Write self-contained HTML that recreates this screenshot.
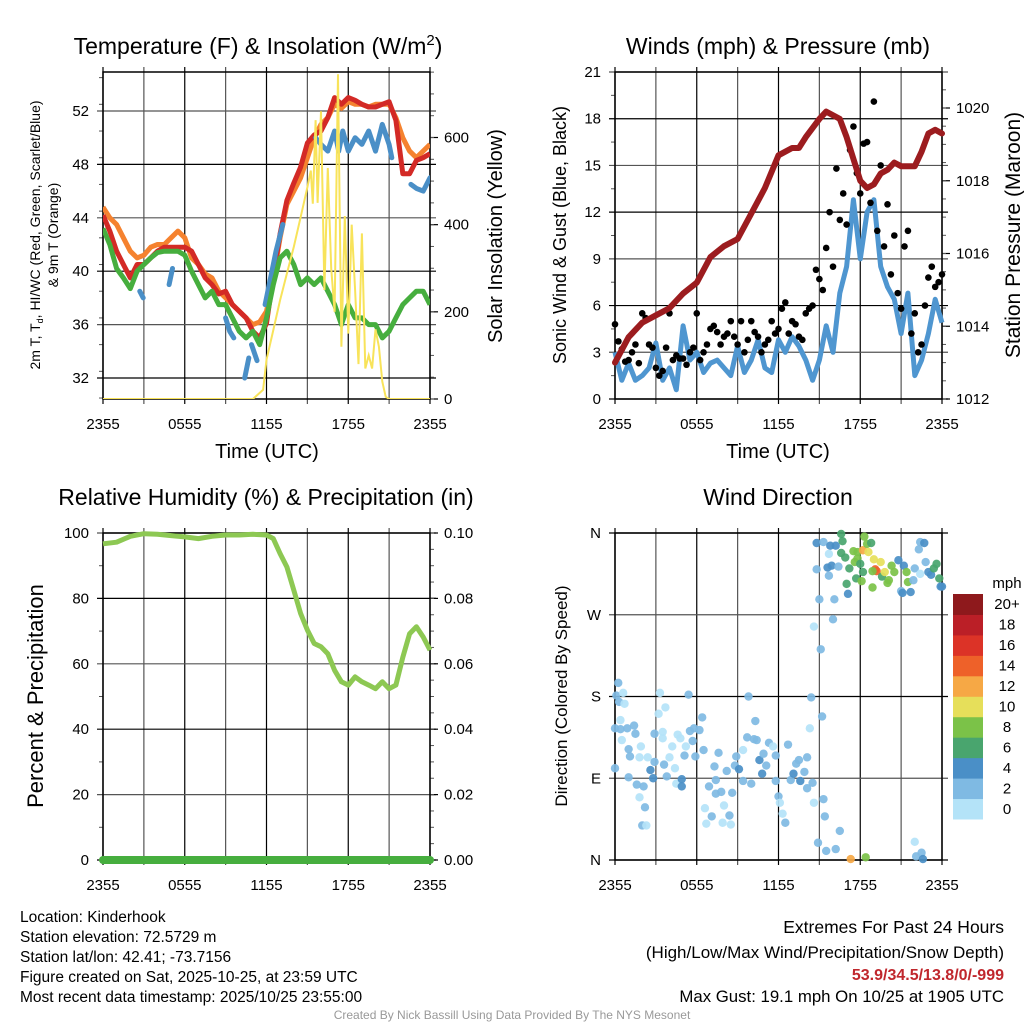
<!DOCTYPE html>
<html><head><meta charset="utf-8"><style>
html,body{margin:0;padding:0;background:#fff;}
svg text{font-family:"Liberation Sans",sans-serif;fill:#000;}
</style></head><body>
<svg id="chart" xmlns="http://www.w3.org/2000/svg" width="1024" height="1024" viewBox="0 0 1024 1024">
<rect x="0" y="0" width="1024" height="1024" fill="#fff"/>
<g id="layer"></g>
<g font-size="15.5">
<text x="20" y="922">Location: Kinderhook</text>
<text x="20" y="942">Station elevation: 72.5729 m</text>
<text x="20" y="962">Station lat/lon: 42.41; -73.7156</text>
<text x="20" y="982">Figure created on Sat, 2025-10-25, at 23:59 UTC</text>
<text x="20" y="1002">Most recent data timestamp: 2025/10/25 23:55:00</text>
<text x="1004" y="933" text-anchor="end" font-size="17.5">Extremes For Past 24 Hours</text>
<text x="1004" y="958" text-anchor="end" font-size="17">(High/Low/Max Wind/Precipitation/Snow Depth)</text>
<text x="1004" y="980" text-anchor="end" font-size="16" font-weight="bold" style="fill:#c0272d">53.9/34.5/13.8/0/-999</text>
<text x="1004" y="1002" text-anchor="end" font-size="16.8">Max Gust: 19.1 mph On 10/25 at 1905 UTC</text>
<text x="512" y="1019" text-anchor="middle" font-size="12" style="fill:#999">Created By Nick Bassill Using Data Provided By The NYS Mesonet</text>
</g>
</svg>
<script>
// ---------- data (hours since 2355 UTC) ----------
const halfHours = []; for (let i = 0; i <= 48; i++) halfHours.push(i * 0.5);
const timeTickLabels = ["2355","0555","1155","1755","2355"];
const tempRed = [44.2,43,41.5,40.5,39.5,40.5,40.5,41,41.5,41.8,41.8,41.8,41.8,41.5,40.5,39.5,39,38.3,38.5,37.5,37,36.5,35.5,35,36.1,39.6,42.8,45.3,46.6,47.8,49.6,50.2,50.5,51.5,53,52.5,53,52.8,52.5,52.3,52.3,52.5,52.7,51.3,47.3,47.3,48.3,48.5,48.8];
const temp9mOrange = [44.8,44,43.5,42.5,41.5,41,41.2,41.8,42,42,42.5,43,42.5,41,40.5,39.8,39.5,38.5,38,37.5,37,36.5,36,36.2,37,39.5,42.5,45,46,47,48.5,50,51,51.5,52.5,52.2,52.7,52.5,52.5,52.3,52.5,52.5,52.5,51.5,50,49,48.5,49,49.5];
const dewGreen = [43.2,42,40.2,39.5,38.7,40,40.5,41,41.4,41.5,41.5,41.5,41.2,40,39,38,38.5,37.5,37.5,36.5,35.5,35,35.5,34.5,36.5,39,41,41.5,40.5,39,39.5,39,39.5,38.5,37.5,36,37.5,36.5,36.5,36,36,35,35.5,36.5,37.5,38,38.5,38.5,37.5];
const hiTimes = [2.7,2.95,null,4.85,5.1,null,9.0,9.3,9.6,null,10.4,10.7,null,10.9,11.3,null,11.9,12.3,12.7,13.2,null,15.6,16.0,16.5,17.0,17.3,17.6,18.0,18.5,19.0,19.5,20.0,20.5,21.0,21.2,null,22.6,23.0,23.5,24.0];
const hiVals = [38.5,38.0,null,39.0,40.2,null,36.5,35.5,35.0,null,32.0,33.5,null,34.5,33.3,null,37.5,39.5,41.5,43.5,null,50.0,49.5,49.0,50.5,49.0,50.5,49.0,50.0,49.5,50.5,49.0,51.0,49.5,48.5,null,46.5,46.2,46.0,47.0];
const solarTimes = [0,11,11.5,11.75,12,12.5,13,13.5,14,14.5,15,15.25,15.4,15.6,15.75,16,16.25,16.5,16.75,17,17.25,17.5,17.75,18,18.25,18.5,18.75,19,19.25,19.5,19.75,20,20.25,20.5,20.75,21,24];
const solarVals = [0,0,14,21,90,158,227,288,349,417,486,524,448,640,450,660,250,530,300,200,745,120,420,150,400,250,80,380,70,100,70,160,120,40,5,0,0];
const tempTicks = [32,36,40,44,48,52];
const solarTicks = [0,200,400,600];

const windBlue = [3.0,1.2,2.3,1.2,1.5,2.0,3.6,1.2,2.0,0.6,4.7,2.5,3.0,1.7,2.3,2.5,2.0,1.5,3.4,1.7,2.5,3.8,2.0,1.7,3.8,3.0,4.0,3.4,2.5,1.2,2.5,4.7,3.0,6.8,8.5,12.8,9.0,12.0,12.8,8.5,7.2,6.4,4.2,6.8,1.5,2.5,4.2,6.4,4.9];
const gustA = [4.8,3.2,2.5,3.5,5.5,3.5,2.0,1.8,5.5,2.8,2.6,3.0,5.5,3.0,4.5,4.3,4.0,5.0,3.5,3.0,5.0,4.0,3.5,5.0,4.5,6.2,5.0,4.0,5.5,6.0,7.7,9.7,8.5,11.5,11.2,17.5,13.2,16.5,19.1,15.0,12.5,10.5,5.8,10.8,5.5,3.5,7.8,7.2,8.0];
const gustB = [3.7,2.4,3.0,2.3,5.2,3.3,1.5,3.3,2.5,2.6,2.2,3.3,2.5,3.5,4.7,3.5,4.2,4.0,5.0,3.8,4.3,3.0,3.8,4.2,5.8,4.2,4.8,3.8,5.8,8.3,7.0,12.0,14.8,13.2,16.0,14.5,16.4,12.6,10.8,9.8,8.0,6.8,9.8,4.2,3.0,6.0,8.5,7.5];
const pressTimes = [0,1,2,3,4,5,6,7,8,9,10,11,12,13,13.5,14,15,15.5,16,16.5,17,17.5,18,18.5,19,19.5,20,20.5,21,22,22.5,23,23.5,24];
const pressVals = [1013.0,1013.7,1014.1,1014.3,1014.5,1014.9,1015.2,1015.9,1016.2,1016.4,1017.1,1017.8,1018.7,1018.9,1018.9,1019.2,1019.7,1019.9,1019.8,1019.7,1019.2,1018.6,1018.0,1017.8,1017.9,1018.2,1018.3,1018.5,1018.4,1018.4,1018.8,1019.3,1019.4,1019.3];
const windTicks = [0,3,6,9,12,15,18,21];
const pressTicks = [1012,1014,1016,1018,1020];

const rhTimes = [0,1,2,3,4,5,6,7,8,9,10,11,12,12.5,13,13.5,14,14.5,15,15.5,16,16.5,17,17.5,18,18.5,19,19.5,20,20.5,21,21.5,22,22.5,23,23.5,24];
const rhVals = [96.7,97.2,99,99.8,99.6,99.2,98.8,98.3,99,99.4,99.4,99.6,99.4,98.3,93.7,89.6,82.5,75.4,70.3,66.2,65.2,63.1,58,54.5,53.5,56,54.5,53.5,52.4,54.5,52.4,53.5,62,69.2,71.3,68.2,64.2];
const precipTimes = [0,24];
const precipVals = [0,0];
const rhTicks = [0,20,40,60,80,100];
const precipTickLabels = ["0.00","0.02","0.04","0.06","0.08","0.10"];

const dirHours = [0.24,0.1,0.3,0.6,0.7,0.4,0,0.4,0.9,1.4,1.5,0.5,1,1.1,0,1,1.6,2.1,1.8,2.2,2,2.3,1.8,1.9,2.4,2.9,2.6,2.8,2.9,3.2,3.3,3.7,3.5,3.5,3.8,3.6,4.0,4.2,4.4,4.5,4.6,4.8,4.9,4.9,5.1,5.2,5.4,5.7,5.5,5.8,6.2,6.4,6.5,5.9,6.6,6.7,6.9,7.1,7.3,7.4,7.6,7.4,7.8,7.9,8,8.2,8.4,8.5,8.6,8.8,8.9,9.1,9.4,9.4,9.7,9.8,10,10.2,10.3,10.4,10.6,10.8,10.9,11.1,11.3,11.6,11.8,11.8,12,12.1,12.3,12.5,12.7,12.9,13.1,13.3,13.5,13.6,13.9,14.1,14.1,14.4,14.3,14.5,14.6,15.2,15.1,15.3,15.4,14.9,15.5,16.2,16.5,17.3,18.4,22,22.1,22.5,22.6,14.6,16,15,16.1,14.8,14.8,15.3,15.7,15.8,16.2,15.6,15.9,15.7,16.4,16.6,16.7,16.6,16.9,17,17.1,17.2,17.5,17.6,17.8,17.7,17.8,18,18.1,18.2,18.3,18.2,18.5,18.6,18.8,18.9,19,19.1,19.2,18.9,19.5,19.6,19.8,20,20.1,20.3,20.5,20.8,21,21.1,21.2,21.4,21.5,21.7,21.9,22,22.3,22.4,22.7,22.4,22.8,23,23.2,23.4,23.6,23.8,23.9,24];
const dirDegrees = [195,181,174,184,172,154,145,144,145,148,139,132,122,114,101,91,83,81,69,58,38,38,113,125,113,108,99,90,139,161,184,168,141,134,92,105,113,125,101,84,138,134,89,81,115,125,182,131,142,145,143,157,121,114,57,40,81,48,103,88,118,73,75,41,60,98,49,39,74,104,114,100,121,87,135,180,84,133,153,132,110,95,117,104,129,125,115,87,70,63,51,41,127,88,95,106,110,87,97,113,79,179,145,85,63,158,232,67,48,19,10,12,32,1,3,20,4,8,1,257,265,287,287,320,349,350,337,346,346,322,324,313,323,359,351,338,333,304,293,321,340,328,332,310,339,326,307,317,356,341,348,339,349,300,331,320,318,318,328,312,317,305,308,324,317,330,296,294,324,317,306,295,308,321,342,350,349,315,328,317,314,321,326,310,301,301];
const dirSpeeds = [3,3,2,1,1,1,3,3,3,3,3,1,3,3,3,3,3,3,1,3,3,1,1,1,1,3,4,4,3,1,1,1,1,1,3,3,1,1,1,1,1,1,4,4,3,1,3,3,3,3,3,3,3,3,1,1,3,3,3,3,3,3,3,1,1,3,3,1,3,3,3,4,1,3,3,3,3,3,3,3,4,4,3,3,3,1,3,3,3,1,1,3,3,3,4,3,3,4,3,3,3,3,1,3,1,3,3,3,3,3,3,3,3,12,8,1,3,3,4,1,3,3,3,3,4,3,1,4,4,4,4,3,3,6,7,7,6,6,4,6,9,9,9,6,8,7,8,7,8,12,9,10,7,8,10,14,14,8,10,6,10,8,8,8,8,4,3,4,4,8,8,4,3,3,3,3,4,1,3,4,4,6,6,6,4,4];
const dirTickLabels = ["N","E","S","W","N"];
const speedBinLabels = ["0","2","4","6","8","10","12","14","16","18","20+"];
const speedColors = ["#b4e3f8","#7fbae3","#4a8fc7","#49a56e","#7bc248","#e6df5a","#f6a845","#ee6129","#dc3327","#bb1f27","#8e191c"];

// ---------- drawing ----------
const NS = "http://www.w3.org/2000/svg";
const layer = document.getElementById("layer");
function mk(tag, attrs, parent) {
  const e = document.createElementNS(NS, tag);
  for (const k in attrs) e.setAttribute(k, attrs[k]);
  (parent || layer).appendChild(e);
  return e;
}
function txt(str, x, y, size, anchor, parent, rot) {
  const t = mk("text", {x: x, y: y, "font-size": size, "text-anchor": anchor || "middle"}, parent);
  if (rot) t.setAttribute("transform", "rotate(" + rot + " " + x + " " + y + ")");
  t.textContent = str;
  return t;
}
function linear(d0, d1, r0, r1) { return v => r0 + (v - d0) / (d1 - d0) * (r1 - r0); }
function pathFrom(xs, ys, sx, sy) {
  let d = "", pen = false;
  for (let i = 0; i < xs.length; i++) {
    if (xs[i] === null || ys[i] === null) { pen = false; continue; }
    d += (pen ? "L" : "M") + sx(xs[i]).toFixed(1) + "," + sy(ys[i]).toFixed(1);
    pen = true;
  }
  return d;
}

function panelFrame(g, x0, x1, y0, y1, sy, ticks, labels, rightTicks, rightLabels, syR, minorL, minorR) {
  const sx = linear(0, 24, x0, x1);
  for (let h = 0; h <= 24; h += 3) {
    const gl = mk("line", {x1: sx(h), x2: sx(h), y1: y0 - 5, y2: y1 + 5, stroke: (h % 6 === 0) ? "#000" : "#555", "stroke-width": 1.2}, g);
    
    
  }
  ticks.forEach((v, i) => {
    const y = sy(v);
    const gl = mk("line", {x1: x0 - 6, x2: x1 + 6, y1: y, y2: y, stroke: (i % 2) ? "#555" : "#000", "stroke-width": 1.2}, g);
    
    
    const t = txt(labels[i], x0 - 14, y + 5, 15, "end", g);
    
    
  });
  if (minorL) minorL.forEach(v => { mk("line", {x1: x0 - 4, x2: x0, y1: sy(v), y2: sy(v), stroke: "#555", "stroke-width": 1}, g); });
  if (rightTicks) {
    rightTicks.forEach((v, i) => {
      const y = syR(v);
      mk("line", {x1: x1, x2: x1 + 8, y1: y, y2: y, stroke: "#000", "stroke-width": 1.2}, g);
      const t = txt(rightLabels[i], x1 + 14, y + 5, 15, "start", g);
      
      
    });
  }
  if (minorR) minorR.forEach(v => { mk("line", {x1: x1, x2: x1 + 4, y1: syR(v), y2: syR(v), stroke: "#555", "stroke-width": 1}, g); });
  const b = mk("rect", {x: x0, y: y0, width: x1 - x0, height: y1 - y0, fill: "none", stroke: "#000", "stroke-width": 1.5}, g);
  
  
  timeTickLabels.forEach((l, i) => {
    const t = txt(l, sx(i * 6), y1 + 30, 15, "middle", g);
    
    
  });
  return sx;
}
function range(a, b, s) { const r = []; for (let v = a; v <= b + 1e-9; v += s) r.push(v); return r; }

// ===== Panel 1: Temperature =====
(function () {
  const g = mk("g", {});
  
  
  const x0 = 103, x1 = 430, y0 = 72, y1 = 399;
  const sy = linear(32, 52, 378, 111);
  const syR = linear(0, 600, 399, 137.5);
  const sx = panelFrame(g, x0, x1, y0, y1, sy, tempTicks, tempTicks.map(String), solarTicks, solarTicks.map(String), syR, range(30.5, 54.5, 2).filter(v => sy(v) > y0 && sy(v) < y1), range(0, 750, 50));
  const clip = mk("clipPath", {id: "c1"}, g); mk("rect", {x: x0, y: y0, width: x1 - x0, height: y1 - y0}, clip);
  const dg = mk("g", {"clip-path": "url(#c1)"}, g);
  const so = mk("path", {d: pathFrom(halfHours, temp9mOrange, sx, sy), fill: "none", stroke: "#f5822f", "stroke-width": 5, "stroke-linejoin": "round"}, dg);
   
  const sr = mk("path", {d: pathFrom(halfHours, tempRed, sx, sy), fill: "none", stroke: "#d32a26", "stroke-width": 5, "stroke-linejoin": "round"}, dg);
   
  const sb = mk("path", {d: pathFrom(hiTimes, hiVals, sx, sy), fill: "none", stroke: "#4a8fc7", "stroke-width": 5, "stroke-linejoin": "round", "stroke-linecap": "round"}, dg);
   
  const sg = mk("path", {d: pathFrom(halfHours, dewGreen, sx, sy), fill: "none", stroke: "#46ae3e", "stroke-width": 5, "stroke-linejoin": "round"}, dg);
   
  const ss = mk("path", {d: pathFrom(solarTimes, solarVals, sx, syR), fill: "none", stroke: "#f8e35a", "stroke-width": 2}, dg);
   
  let t = txt("Temperature (F) & Insolation (W/m", 258, 54, 23, "middle", g);
  const sup = mk("tspan", {dy: -9, "font-size": 15}, t); sup.textContent = "2";
  const cl = mk("tspan", {dy: 9}, t); cl.textContent = ")";
   
  t = txt("", 40, 235, 14, "middle", g, -90);
  t.innerHTML = '2m T, T<tspan font-size="9" dy="3">d</tspan><tspan dy="-3">, HI/WC (Red, Green, Scarlet/Blue)</tspan>';
   
  t = txt("& 9m T (Orange)", 58, 235, 14, "middle", g, -90);
   
  t = txt("Solar Insolation (Yellow)", 502, 236, 20, "middle", g, -90);
   
  t = txt("Time (UTC)", 267, 458, 20, "middle", g);
   
})();

// ===== Panel 2: Winds & pressure =====
(function () {
  const g = mk("g", {});
  
  
  const x0 = 615, x1 = 942, y0 = 72, y1 = 399;
  const sy = linear(0, 21, 399, 72);
  const syR = linear(1012, 1020, 399, 108);
  const sx = panelFrame(g, x0, x1, y0, y1, sy, windTicks, windTicks.map(String), pressTicks, pressTicks.map(String), syR, range(1.5, 19.5, 3), range(1012, 1021, 0.5).filter(v => syR(v) > y0));
  const clip = mk("clipPath", {id: "c2"}, g); mk("rect", {x: x0 - 4, y: y0, width: x1 - x0 + 8, height: y1 - y0}, clip);
  const dg = mk("g", {"clip-path": "url(#c2)"}, g);
  const wl = mk("path", {d: pathFrom(halfHours, windBlue, sx, sy), fill: "none", stroke: "#4f96d0", "stroke-width": 5, "stroke-linejoin": "round"}, dg);
   
  gustA.forEach((v, i) => {
    const c = mk("circle", {cx: sx(halfHours[i]), cy: sy(v), r: 3.3, fill: "#000"}, dg);
    
    
  });
  gustB.forEach((v, i) => {
    const c = mk("circle", {cx: sx(halfHours[i] + 0.25), cy: sy(v), r: 3.3, fill: "#000"}, dg);
    
    
  });
  const pl = mk("path", {d: pathFrom(pressTimes, pressVals, sx, syR), fill: "none", stroke: "#9c1c1f", "stroke-width": 6, "stroke-linejoin": "round", "stroke-linecap": "round"}, dg);
   
  let t = txt("Winds (mph) & Pressure (mb)", 778, 54, 23, "middle", g);
   
  t = txt("Sonic Wind & Gust (Blue, Black)", 566, 235, 18, "middle", g, -90);
   
  t = txt("Station Pressure (Maroon)", 1020, 235, 21, "middle", g, -90);
   
  t = txt("Time (UTC)", 778, 458, 20, "middle", g);
   
})();

// ===== Panel 3: RH & precip =====
(function () {
  const g = mk("g", {});
  
  
  const x0 = 103, x1 = 430, y0 = 533, y1 = 860;
  const sy = linear(0, 100, 860, 533);
  const syR = linear(0, 0.1, 860, 533);
  const precipTicks = [0, 0.02, 0.04, 0.06, 0.08, 0.1];
  const sx = panelFrame(g, x0, x1, y0, y1, sy, rhTicks, rhTicks.map(String), precipTicks, precipTickLabels, syR, range(10, 90, 20), range(0, 0.1, 0.005));
  const pr = mk("path", {d: pathFrom(precipTimes, precipVals, sx, syR), fill: "none", stroke: "#46ae3e", "stroke-width": 8, "stroke-linecap": "round"}, g);
   
  const rl = mk("path", {d: pathFrom(rhTimes, rhVals, sx, sy), fill: "none", stroke: "#8dc853", "stroke-width": 5, "stroke-linejoin": "round"}, g);
   
  let t = txt("Relative Humidity (%) & Precipitation (in)", 266, 505, 23, "middle", g);
   
  t = txt("Percent & Precipitation", 43, 696, 22, "middle", g, -90);
   
})();

// ===== Panel 4: Wind direction =====
(function () {
  const g = mk("g", {});
  
  
  const x0 = 615, x1 = 942, y0 = 533, y1 = 860;
  const sy = linear(0, 360, 860, 533);
  const sx = panelFrame(g, x0, x1, y0, y1, sy, [0, 90, 180, 270, 360], dirTickLabels, null, null, null, null, null);
  const dg = mk("g", {}, g);
  dirHours.forEach((h, i) => {
    const bin = Math.min(10, Math.floor(dirSpeeds[i] / 2));
    const c = mk("circle", {cx: sx(h), cy: sy(dirDegrees[i]), r: 4.2, fill: speedColors[bin], "fill-opacity": 0.92}, dg);
    
    
  });
  const cb = mk("g", {}, g);
  
  
  const bx = 953, bw = 30, btop = 594, bh = 225 / 11;
  speedBinLabels.forEach((l, i) => {
    const y = btop + (10 - i) * bh;
    const r = mk("rect", {x: bx, y: y, width: bw, height: bh + 0.5, fill: speedColors[i]}, cb);
    
    
    const t = txt(l, 1007, y + bh / 2 + 5, 15, "middle", cb);
    
    
  });
  let t = txt("mph", 1007, 588, 15, "middle", cb);
   
  t = txt("Wind Direction", 778, 505, 23, "middle", g);
   
  t = txt("Direction (Colored By Speed)", 567, 696, 17, "middle", g, -90);
   
})();
</script>
</body></html>
